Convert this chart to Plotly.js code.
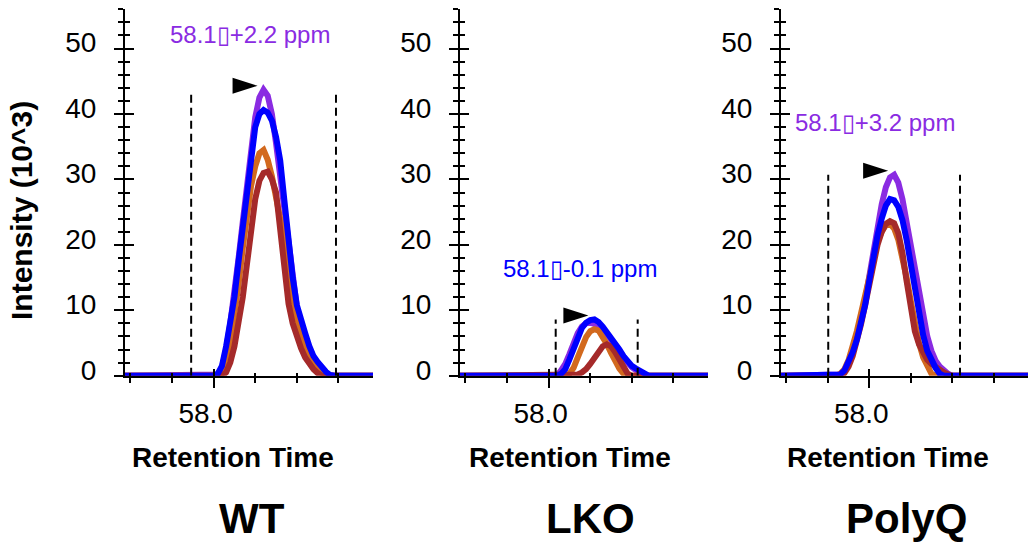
<!DOCTYPE html>
<html>
<head>
<meta charset="utf-8">
<script src="https://cdn.plot.ly/plotly-3.0.1.min.js"></script>
<style>html,body{margin:0;padding:0;background:#fff;}#chart{width:1028px;height:542px;}</style>
</head>
<body>
<div id="chart"></div>
<script>
// ---------------- DATA ----------------
const panelNames = ['WT', 'LKO', 'PolyQ'];
const seriesNames = ['purple', 'orange', 'brown', 'blue'];
const seriesColors = ['#8A2BE2', '#D2691E', '#A52A2A', '#0000FF'];

const xTickVals = [58.0];
const xTickText = ['58.0'];
const yTickVals = [0, 10, 20, 30, 40, 50];
const yTickText = ['0', '10', '20', '30', '40', '50'];
const xAxisTitle = 'Retention Time';
const yAxisTitle = 'Intensity (10^3)';

// WT
const wtTime = [57.787, 58.00, 58.01, 58.02, 58.03, 58.04, 58.05, 58.06, 58.07, 58.08, 58.09,
  58.10, 58.11, 58.12, 58.13, 58.14, 58.15, 58.16, 58.17, 58.18, 58.19,
  58.20, 58.21, 58.22, 58.23, 58.24, 58.25, 58.26, 58.27, 58.28, 58.29, 58.383];
const wtPurple = [0, 0, 0.2, 1.2, 4.0, 8.0, 12.5, 18.0, 23.5, 29.5, 35.0,
  39.5, 42.5, 43.7, 42.8, 40.0, 35.5, 30.5, 25.0, 19.5, 14.5,
  10.5, 7.5, 5.3, 3.5, 2.2, 1.3, 0.6, 0.1, 0, 0, 0];
const wtOrange = [0, 0, 0, 0.3, 2.0, 5.0, 9.0, 14.0, 19.5, 24.5, 29.0,
  32.0, 34.0, 34.5, 33.0, 30.5, 27.5, 24.0, 20.0, 16.0, 12.0,
  8.5, 6.0, 4.2, 2.8, 1.8, 1.0, 0.4, 0, 0, 0, 0];
const wtBrown = [0, 0, 0, 0, 0.5, 2.0, 4.5, 8.0, 12.0, 17.0, 22.0,
  27.0, 29.8, 31.0, 31.2, 30.0, 28.0, 22.7, 16.5, 11.0, 8.0,
  5.8, 4.2, 2.8, 1.8, 1.0, 0.4, 0, 0, 0, 0, 0];
const wtBlue = [0, 0, 0.3, 1.5, 4.5, 8.3, 12.0, 17.5, 22.2, 27.7, 33.2,
  38.0, 40.0, 40.6, 40.2, 39.0, 36.5, 32.9, 26.8, 20.5, 15.0,
  10.8, 8.3, 6.5, 4.5, 3.0, 2.1, 1.3, 0.6, 0.1, 0, 0];
const wtBounds = [57.946, 58.294];
const wtNote = '58.1\u25AF+2.2 ppm';

// LKO
const lkoTime = [57.787, 58.02, 58.03, 58.04, 58.05, 58.06, 58.07, 58.08, 58.09,
  58.10, 58.11, 58.12, 58.13, 58.14, 58.15, 58.16, 58.17, 58.18, 58.19,
  58.20, 58.21, 58.22, 58.23, 58.24, 58.383];
const lkoPurple = [0, 0, 0.8, 1.8, 3.3, 5.0, 6.5, 7.5, 8.0,
  8.1, 8.0, 7.7, 7.1, 6.4, 5.6, 4.7, 3.8, 2.8, 2.0,
  1.3, 0.8, 0.4, 0.1, 0, 0];
const lkoOrange = [0, 0, 0, 0, 0.3, 1.2, 2.8, 4.5, 5.9,
  6.8, 7.1, 6.9, 6.0, 4.8, 3.5, 2.2, 1.1, 0.3, 0,
  0, 0, 0, 0, 0, 0];
const lkoBrown = [0, 0, 0, 0, 0, 0, 0.2, 0.5, 1.0,
  1.8, 2.8, 3.8, 4.5, 4.8, 4.5, 3.6, 2.4, 1.2, 0.3,
  0, 0, 0, 0, 0, 0];
const lkoBlue = [0, 0, 0.3, 1.0, 2.5, 4.3, 6.0, 7.3, 8.1,
  8.5, 8.6, 8.2, 7.5, 6.7, 5.8, 4.9, 4.0, 3.0, 2.2,
  1.5, 1.1, 0.8, 0.3, 0, 0];
const lkoBounds = [58.017, 58.214];
const lkoNote = '58.1\u25AF-0.1 ppm';

// PolyQ
const polyqTime = [57.787, 57.92, 57.93, 57.94, 57.95, 57.96, 57.97, 57.98, 57.99,
  58.00, 58.01, 58.02, 58.03, 58.04, 58.05, 58.06, 58.07, 58.08, 58.09,
  58.10, 58.11, 58.12, 58.13, 58.14, 58.15, 58.16, 58.17, 58.18, 58.19, 58.20, 58.383];
const polyqPurple = [0, 0, 0.2, 0.8, 2.0, 3.7, 5.8, 8.5, 11.5,
  15.5, 19.5, 23.0, 26.2, 28.8, 30.3, 30.7, 29.5, 27.0, 23.5,
  19.5, 15.5, 12.0, 8.8, 6.0, 3.8, 2.3, 1.4, 0.8, 0.3, 0, 0];
const polyqOrange = [0, 0, 0.3, 1.0, 2.4, 4.3, 6.8, 9.5, 12.5,
  15.5, 18.3, 20.5, 22.0, 23.0, 23.2, 22.5, 20.8, 18.2, 15.0,
  11.5, 8.0, 5.0, 2.8, 1.3, 0.3, 0, 0, 0, 0, 0, 0];
const polyqBrown = [0, 0, 0, 0.4, 1.4, 3.0, 5.2, 7.8, 10.8,
  14.0, 17.2, 20.0, 22.0, 23.2, 23.6, 23.3, 21.8, 18.8, 14.5,
  10.0, 6.8, 4.8, 3.4, 2.4, 1.8, 1.3, 0.9, 0.5, 0.2, 0, 0];
const polyqBlue = [0, 0, 0.2, 0.8, 2.0, 3.6, 5.5, 8.0, 10.8,
  14.5, 18.5, 21.5, 24.0, 26.0, 27.0, 26.8, 25.8, 23.8, 20.8,
  17.0, 13.0, 9.5, 6.2, 3.8, 2.3, 1.2, 0.3, 0, 0, 0, 0];
const polyqBounds = [57.901, 58.219];
const polyqNote = '58.1\u25AF+3.2 ppm';

// ---------------- LAYOUT CONSTANTS ----------------
const W = 1028, H = 542;
const FONT = 'Liberation Sans, Arial, sans-serif';
const RT_RANGE = [57.787, 58.383];
const Y_RANGE = [0, 56];
const panelPx = [[125, 373], [460, 708], [781, 1028]];
const plotTopPx = 9.3, plotBottomPx = 375.7;
const xTitlePx = [233, 570, 888], xTitleY = 457;
const namePx = [252, 590, 906], nameY = 518;
const notePos = [[250, 34], [580, 268], [875, 122]];
const yTitlePos = [22, 211];

const panels = [
  {time: wtTime, series: [wtPurple, wtOrange, wtBrown, wtBlue], bounds: wtBounds, note: wtNote},
  {time: lkoTime, series: [lkoPurple, lkoOrange, lkoBrown, lkoBlue], bounds: lkoBounds, note: lkoNote},
  {time: polyqTime, series: [polyqPurple, polyqOrange, polyqBrown, polyqBlue], bounds: polyqBounds, note: polyqNote}
];

const px = v => v / W;
const py = v => 1 - v / H;
const yDom = [py(plotBottomPx), py(plotTopPx)];

const traces = [];
const layout = {
  width: W, height: H,
  margin: {l: 0, r: 0, t: 0, b: 0},
  paper_bgcolor: '#fff', plot_bgcolor: 'rgba(0,0,0,0)',
  showlegend: false,
  font: {family: FONT, color: '#000'},
  annotations: [], shapes: []
};

panels.forEach((p, i) => {
  const n = i + 1, o = i + 4;
  const xd = [px(panelPx[i][0]), Math.min(1, px(panelPx[i][1]))];
  layout['xaxis' + n] = {
    domain: xd, range: RT_RANGE, anchor: 'y' + n,
    showline: true, linecolor: '#000', linewidth: 2,
    ticks: 'outside', ticklen: 10, tickwidth: 2, tickcolor: '#000',
    tickmode: 'array', tickvals: xTickVals, ticktext: xTickText,
    tickfont: {size: 28, color: '#000', family: FONT},
    ticklabelshift: -8, ticklabelstandoff: 2,
    minor: {ticks: 'outside', ticklen: 5, tickwidth: 2, tickcolor: '#000', tick0: 57.8, dtick: 0.1, showgrid: false},
    showgrid: false, zeroline: false, fixedrange: true
  };
  layout['yaxis' + n] = {
    domain: yDom, range: Y_RANGE, anchor: 'x' + n,
    showline: true, linecolor: '#000', linewidth: 2,
    ticks: 'outside', ticklen: 9, tickwidth: 2, tickcolor: '#000',
    tickmode: 'array', tickvals: yTickVals, ticktext: yTickText,
    tickfont: {size: 28, color: '#000', family: FONT},
    ticklabelshift: -6, ticklabelstandoff: 12,
    minor: {ticks: 'outside', ticklen: 5, tickwidth: 2, tickcolor: '#000', tick0: 0, dtick: 2, showgrid: false},
    showgrid: false, zeroline: false, fixedrange: true
  };
  // overlay axes for the inner half of crossing ticks
  layout['xaxis' + o] = {
    overlaying: 'x' + n, range: RT_RANGE, anchor: 'y' + o,
    showline: false, ticks: 'inside', ticklen: 7, tickwidth: 2, tickcolor: '#000',
    tickmode: 'array', tickvals: xTickVals, showticklabels: false,
    minor: {ticks: 'inside', ticklen: 3, tickwidth: 2, tickcolor: '#000', tick0: 57.8, dtick: 0.1, showgrid: false},
    showgrid: false, zeroline: false, fixedrange: true
  };
  layout['yaxis' + o] = {
    overlaying: 'y' + n, range: Y_RANGE, anchor: 'x' + o,
    showline: false, ticks: 'inside', ticklen: 9, tickwidth: 2, tickcolor: '#000',
    tickmode: 'array', tickvals: yTickVals, showticklabels: false,
    minor: {ticks: 'inside', ticklen: 5, tickwidth: 2, tickcolor: '#000', tick0: 0, dtick: 2, showgrid: false},
    showgrid: false, zeroline: false, fixedrange: true
  };
  traces.push({x: [null], y: [null], xaxis: 'x' + o, yaxis: 'y' + o, mode: 'lines', hoverinfo: 'skip'});

  // series
  p.series.forEach((vals, k) => {
    traces.push({
      x: p.time, y: vals, xaxis: 'x' + n, yaxis: 'y' + n,
      mode: 'lines', line: {color: seriesColors[k], width: 6},
      name: seriesNames[k], hoverinfo: 'skip', cliponaxis: false
    });
  });

  // highest peak
  let best = -1, bestK = 0, bestIdx = 0;
  p.series.forEach((vals, k) => vals.forEach((v, j) => { if (v > best) { best = v; bestK = k; bestIdx = j; } }));
  const peakT = p.time[bestIdx];

  // integration boundaries (dashed), up to the peak height
  p.bounds.forEach(b => {
    layout.shapes.push({type: 'line', xref: 'x' + n, yref: 'y' + n, x0: b, x1: b, y0: 0, y1: best,
      line: {color: '#000', width: 2, dash: '8px,5px'}});
  });
  // arrowhead marking the apex
  layout.shapes.push({type: 'path', xref: 'x' + n, yref: 'y' + n,
    xsizemode: 'pixel', ysizemode: 'pixel', xanchor: peakT, yanchor: best,
    path: 'M -31 12 L -6 4 L -31 -4 Z', fillcolor: '#000', line: {width: 0}});

  // mass error note in colour of the apex series
  layout.annotations.push({xref: 'paper', yref: 'paper', x: px(notePos[i][0]), y: py(notePos[i][1]),
    xanchor: 'center', yanchor: 'middle', showarrow: false, text: p.note,
    font: {size: 24, color: seriesColors[bestK], family: FONT}});
  // x title
  layout.annotations.push({xref: 'paper', yref: 'paper', x: px(xTitlePx[i]), y: py(xTitleY),
    xanchor: 'center', yanchor: 'middle', showarrow: false, text: '<b>' + xAxisTitle + '</b>',
    font: {size: 28, color: '#000', family: FONT}});
  // panel name
  layout.annotations.push({xref: 'paper', yref: 'paper', x: px(namePx[i]), y: py(nameY),
    xanchor: 'center', yanchor: 'middle', showarrow: false, text: '<b>' + panelNames[i] + '</b>',
    font: {size: 42, color: '#000', family: FONT}});
});

layout.annotations.push({xref: 'paper', yref: 'paper', x: px(yTitlePos[0]), y: py(yTitlePos[1]),
  xanchor: 'center', yanchor: 'middle', showarrow: false, textangle: -90,
  text: '<b>' + yAxisTitle + '</b>', font: {size: 30, color: '#000', family: FONT}});

Plotly.newPlot('chart', traces, layout, {displayModeBar: false, staticPlot: true});
</script>
</body>
</html>
